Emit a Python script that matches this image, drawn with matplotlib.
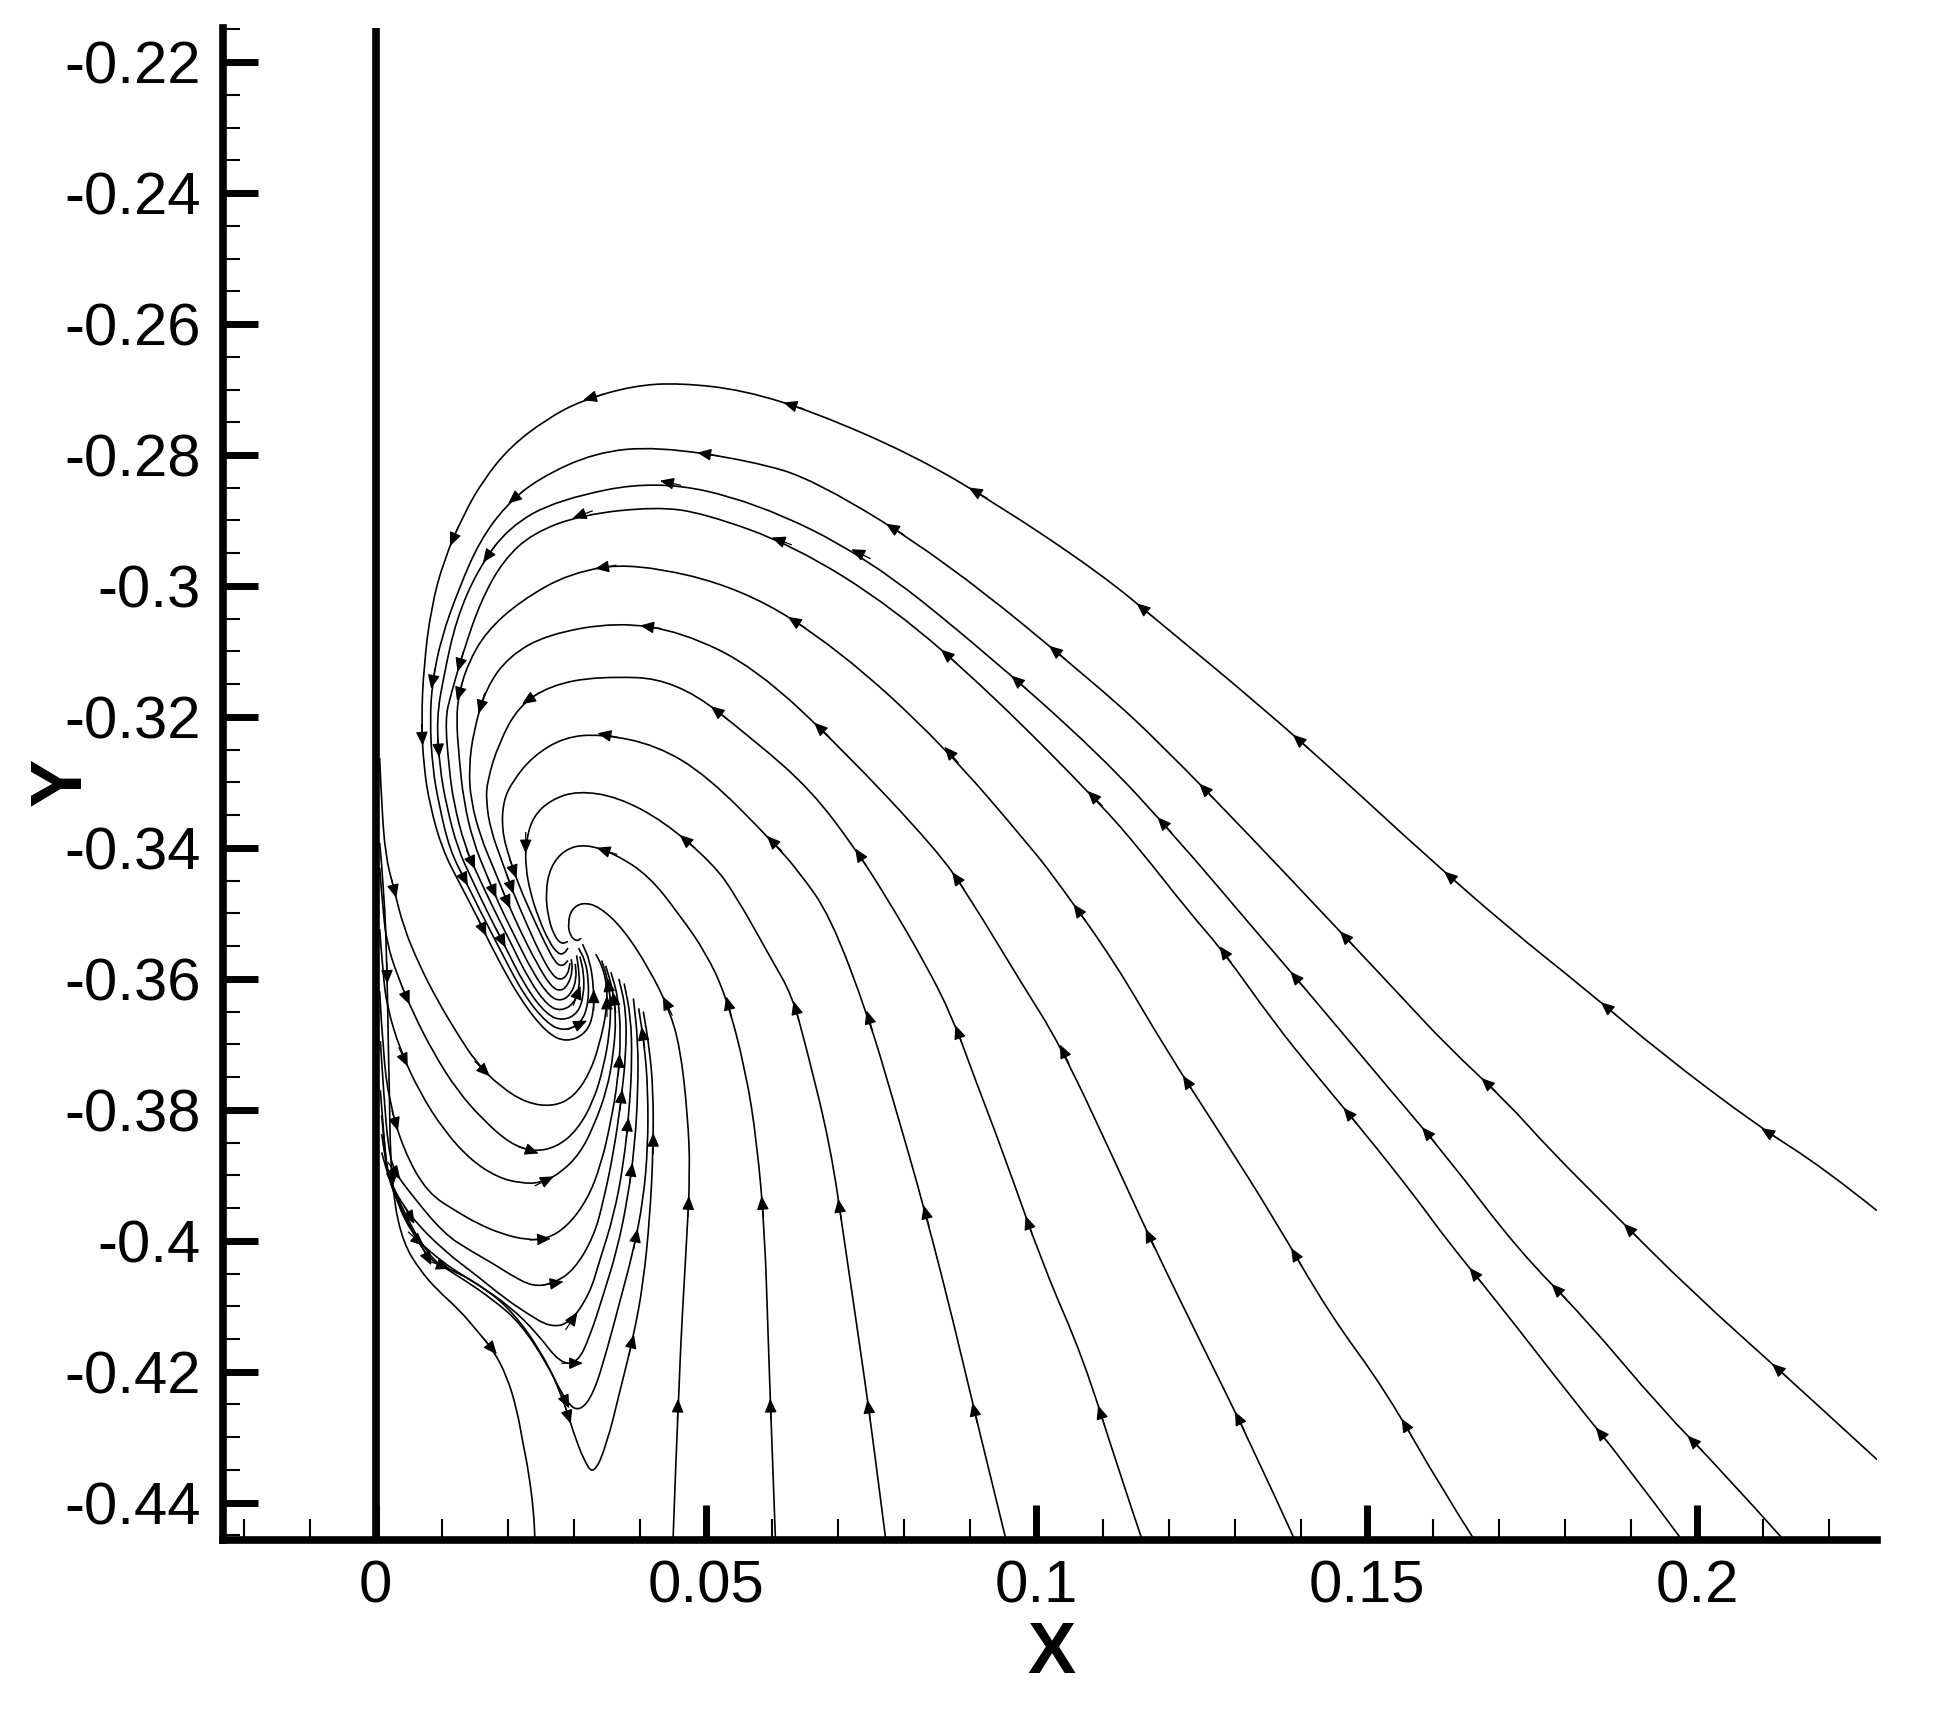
import numpy as np
import matplotlib.pyplot as plt
from matplotlib.path import Path
from matplotlib.patches import PathPatch
from matplotlib.ticker import MultipleLocator, FuncFormatter

plt.rcParams['font.family'] = ['Liberation Sans', 'DejaVu Sans']

# streamlines, each in flow order (x, y)
# upper family: come in from the right / bottom, go over the top and into the focus
a_x = [0.2272, 0.2193, 0.2092, 0.1946, 0.1837, 0.1713, 0.1582, 0.1466, 0.1340, 0.1188, 0.1097, 0.0939, 0.0813, 0.0665,
       0.0557, 0.0461, 0.0390, 0.0311, 0.0259, 0.0204, 0.0163, 0.0133, 0.0103, 0.0084, 0.0073, 0.0069, 0.0073, 0.0082,
       0.0101, 0.0127, 0.0154, 0.0178, 0.0219, 0.0259, 0.0289, 0.0319, 0.0330, 0.0330, 0.0324, 0.0313]
a_y = [-0.3954, -0.3890, -0.3825, -0.3714, -0.3621, -0.3521, -0.3405, -0.3297, -0.3184, -0.3057, -0.2981, -0.2874,
       -0.2800, -0.2735, -0.2701, -0.2690, -0.2694, -0.2717, -0.2745, -0.2787, -0.2838, -0.2891, -0.2961, -0.3033,
       -0.3120, -0.3207, -0.3278, -0.3335, -0.3403, -0.3454, -0.3506, -0.3557, -0.3632, -0.3683, -0.3697, -0.3683,
       -0.3653, -0.3612, -0.3572, -0.3547]

b_x = [0.2272, 0.2246, 0.2139, 0.1991, 0.1869, 0.1775, 0.1713, 0.1621, 0.1552, 0.1428, 0.1327, 0.1188, 0.1097, 0.0862,
       0.0665, 0.0568, 0.0425, 0.0332, 0.0246, 0.0197, 0.0157, 0.0126, 0.0099, 0.0086, 0.0082, 0.0086, 0.0096, 0.0112,
       0.0137, 0.0161, 0.0186, 0.0223, 0.0259, 0.0285, 0.0311, 0.0322, 0.0322, 0.0317, 0.0307]
b_y = [-0.4334, -0.4310, -0.4211, -0.4077, -0.3954, -0.3859, -0.3789, -0.3702, -0.3627, -0.3494, -0.3386, -0.3241,
       -0.3156, -0.2961, -0.2838, -0.2809, -0.2787, -0.2796, -0.2836, -0.2877, -0.2932, -0.3004, -0.3080, -0.3146,
       -0.3203, -0.3278, -0.3335, -0.3403, -0.3453, -0.3502, -0.3551, -0.3623, -0.3668, -0.3680, -0.3668, -0.3638,
       -0.3600, -0.3572, -0.3553]

c_x = [0.2131, 0.2037, 0.1946, 0.1829, 0.1728, 0.1621, 0.1528, 0.1421, 0.1320, 0.1213, 0.1097, 0.0913, 0.0742, 0.0575,
       0.0425, 0.0276, 0.0201, 0.0154, 0.0122, 0.0103, 0.0092, 0.0097, 0.0107, 0.0124, 0.0146, 0.0169, 0.0193, 0.0227,
       0.0259, 0.0283, 0.0306, 0.0315, 0.0315, 0.0309]
c_y = [-0.4457, -0.4351, -0.4257, -0.4117, -0.4013, -0.3871, -0.3761, -0.3632, -0.3513, -0.3386, -0.3258, -0.3093,
       -0.2955, -0.2872, -0.2838, -0.2868, -0.2910, -0.2976, -0.3051, -0.3137, -0.3203, -0.3278, -0.3335, -0.3401,
       -0.3449, -0.3498, -0.3545, -0.3613, -0.3655, -0.3664, -0.3653, -0.3625, -0.3591, -0.3566]

d_x = [0.1977, 0.1891, 0.1814, 0.1698, 0.1621, 0.1575, 0.1498, 0.1421, 0.1359, 0.1282, 0.1231, 0.1157, 0.1097, 0.0932,
       0.0783, 0.0632, 0.0497, 0.0425, 0.0313, 0.0238, 0.0193, 0.0159, 0.0133, 0.0114, 0.0105, 0.0111, 0.0118, 0.0135,
       0.0156, 0.0178, 0.0201, 0.0232, 0.0261, 0.0281, 0.0300, 0.0309, 0.0307, 0.0304]
d_y = [-0.4457, -0.4340, -0.4245, -0.4094, -0.3999, -0.3935, -0.3837, -0.3744, -0.3666, -0.3557, -0.3498, -0.3403,
       -0.3333, -0.3165, -0.3033, -0.2938, -0.2889, -0.2879, -0.2891, -0.2919, -0.2961, -0.3023, -0.3099, -0.3165,
       -0.3203, -0.3278, -0.3331, -0.3398, -0.3445, -0.3492, -0.3538, -0.3602, -0.3642, -0.3649, -0.3638, -0.3613,
       -0.3583, -0.3564]

e_x = [0.1663, 0.1614, 0.1528, 0.1443, 0.1359, 0.1282, 0.1196, 0.1117, 0.1035, 0.0995, 0.0857, 0.0701, 0.0557, 0.0390,
       0.0294, 0.0219, 0.0167, 0.0139, 0.0126, 0.0122, 0.0126, 0.0133, 0.0148, 0.0167, 0.0187, 0.0208, 0.0238, 0.0264,
       0.0281, 0.0296, 0.0304, 0.0302]
e_y = [-0.4457, -0.4380, -0.4228, -0.4111, -0.3965, -0.3842, -0.3708, -0.3572, -0.3456, -0.3403, -0.3241, -0.3097,
       -0.3004, -0.2964, -0.2980, -0.3023, -0.3070, -0.3120, -0.3165, -0.3203, -0.3260, -0.3328, -0.3392, -0.3439,
       -0.3487, -0.3530, -0.3591, -0.3628, -0.3634, -0.3623, -0.3600, -0.3577]

f_x = [0.1391, 0.1327, 0.1250, 0.1173, 0.1117, 0.1035, 0.0977, 0.0896, 0.0849, 0.0707, 0.0575, 0.0463, 0.0366, 0.0259,
       0.0201, 0.0167, 0.0148, 0.0141, 0.0144, 0.0159, 0.0178, 0.0197, 0.0217, 0.0244, 0.0266, 0.0281, 0.0292, 0.0298,
       0.0296]
f_y = [-0.4457, -0.4315, -0.4158, -0.3999, -0.3875, -0.3699, -0.3606, -0.3471, -0.3403, -0.3250, -0.3125, -0.3070,
       -0.3055, -0.3074, -0.3108, -0.3156, -0.3222, -0.3278, -0.3328, -0.3384, -0.3430, -0.3477, -0.3523, -0.3577,
       -0.3613, -0.3619, -0.3608, -0.3587, -0.3570]

g_x = [0.1160, 0.1123, 0.1070, 0.1012, 0.0948, 0.0907, 0.0873, 0.0832, 0.0774, 0.0727, 0.0660, 0.0575, 0.0454, 0.0336,
       0.0264, 0.0216, 0.0186, 0.0169, 0.0167, 0.0174, 0.0191, 0.0208, 0.0227, 0.0249, 0.0268, 0.0281, 0.0291, 0.0294]
g_y = [-0.4457, -0.4346, -0.4177, -0.4043, -0.3861, -0.3753, -0.3659, -0.3577, -0.3477, -0.3403, -0.3313, -0.3237,
       -0.3142, -0.3138, -0.3152, -0.3184, -0.3241, -0.3297, -0.3328, -0.3373, -0.3420, -0.3468, -0.3513, -0.3562,
       -0.3596, -0.3602, -0.3593, -0.3576]

h_x = [0.0954, 0.0907, 0.0879, 0.0832, 0.0780, 0.0746, 0.0688, 0.0641, 0.0604, 0.0502, 0.0425, 0.0341, 0.0285, 0.0238,
       0.0208, 0.0193, 0.0191, 0.0202, 0.0217, 0.0236, 0.0255, 0.0272, 0.0283, 0.0291]
h_y = [-0.4457, -0.4264, -0.4143, -0.3956, -0.3774, -0.3659, -0.3504, -0.3437, -0.3394, -0.3290, -0.3243, -0.3226,
       -0.3231, -0.3260, -0.3297, -0.3328, -0.3373, -0.3415, -0.3458, -0.3502, -0.3543, -0.3576, -0.3581, -0.3572]

i_x = [0.0772, 0.0754, 0.0740, 0.0710, 0.0688, 0.0652, 0.0630, 0.0600, 0.0544, 0.0510, 0.0437, 0.0366, 0.0306, 0.0266,
       0.0238, 0.0227, 0.0227, 0.0234, 0.0246, 0.0262, 0.0276, 0.0285, 0.0291]
i_y = [-0.4457, -0.4315, -0.4211, -0.4005, -0.3854, -0.3706, -0.3625, -0.3572, -0.3471, -0.3424, -0.3360, -0.3322,
       -0.3313, -0.3326, -0.3352, -0.3392, -0.3430, -0.3468, -0.3506, -0.3543, -0.3562, -0.3562, -0.3553]

j_x = [0.0605, 0.0594, 0.0589, 0.0577, 0.0560, 0.0530, 0.0499, 0.0461, 0.0414, 0.0362, 0.0317, 0.0285, 0.0264, 0.0257,
       0.0261, 0.0270, 0.0281, 0.0291]
j_y = [-0.4457, -0.4156, -0.3988, -0.3850, -0.3740, -0.3625, -0.3559, -0.3504, -0.3443, -0.3409, -0.3394, -0.3403,
       -0.3430, -0.3468, -0.3506, -0.3534, -0.3547, -0.3543]

k_x = [0.0450, 0.0459, 0.0470, 0.0476, 0.0472, 0.0461, 0.0444, 0.0414, 0.0375, 0.0339, 0.0313, 0.0296, 0.0291, 0.0294,
       0.0304, 0.0311]
k_y = [-0.4457, -0.4204, -0.4009, -0.3895, -0.3806, -0.3706, -0.3646, -0.3585, -0.3524, -0.3490, -0.3483, -0.3494,
       -0.3515, -0.3534, -0.3543, -0.3538]

# lower family: leave the wall, dip down and come up into the focus from below
m1_x = [0.0006, 0.0009, 0.0015, 0.0027, 0.0042, 0.0067, 0.0093, 0.0123, 0.0153, 0.0189, 0.0229, 0.0269, 0.0300, 0.0324,
        0.0339, 0.0350, 0.0350, 0.0343, 0.0333]
m1_y = [-0.3263, -0.3335, -0.3413, -0.3460, -0.3521, -0.3581, -0.3632, -0.3683, -0.3729, -0.3765, -0.3790, -0.3795,
        -0.3780, -0.3744, -0.3699, -0.3647, -0.3610, -0.3581, -0.3562]

m2_x = [0.0006, 0.0011, 0.0017, 0.0032, 0.0057, 0.0088, 0.0123, 0.0163, 0.0204, 0.0239, 0.0274, 0.0305, 0.0330, 0.0345,
        0.0354, 0.0356, 0.0351, 0.0342]
m2_y = [-0.3430, -0.3496, -0.3545, -0.3593, -0.3653, -0.3714, -0.3770, -0.3816, -0.3852, -0.3864, -0.3857, -0.3831,
        -0.3786, -0.3734, -0.3683, -0.3638, -0.3600, -0.3572]

m3_x = [0.0006, 0.0011, 0.0017, 0.0037, 0.0067, 0.0103, 0.0143, 0.0184, 0.0219, 0.0249, 0.0279, 0.0309, 0.0330, 0.0350,
        0.0360, 0.0364, 0.0358, 0.0348]
m3_y = [-0.3524, -0.3591, -0.3642, -0.3709, -0.3774, -0.3831, -0.3876, -0.3903, -0.3912, -0.3912, -0.3897, -0.3867,
        -0.3825, -0.3770, -0.3714, -0.3657, -0.3613, -0.3580]

m4_x = [0.0006, 0.0011, 0.0021, 0.0042, 0.0078, 0.0127, 0.0153, 0.0189, 0.0229, 0.0259, 0.0289, 0.0320, 0.0341, 0.0356,
        0.0367, 0.0371, 0.0367, 0.0356]
m4_y = [-0.3619, -0.3714, -0.3789, -0.3861, -0.3927, -0.3958, -0.3973, -0.3989, -0.3999, -0.3997, -0.3979, -0.3938,
        -0.3884, -0.3818, -0.3752, -0.3685, -0.3628, -0.3590]

m5_x = [0.0007, 0.0013, 0.0019, 0.0027, 0.0052, 0.0103, 0.0143, 0.0178, 0.0209, 0.0239, 0.0269, 0.0300, 0.0330, 0.0345,
        0.0360, 0.0371, 0.0379, 0.0379, 0.0368]
m5_y = [-0.3695, -0.3789, -0.3856, -0.3892, -0.3927, -0.3989, -0.4015, -0.4035, -0.4055, -0.4070, -0.4065, -0.4045,
        -0.3994, -0.3938, -0.3865, -0.3789, -0.3714, -0.3647, -0.3600]

m6_x = [0.0007, 0.0013, 0.0017, 0.0052, 0.0103, 0.0154, 0.0193, 0.0229, 0.0264, 0.0294, 0.0324, 0.0339, 0.0360, 0.0375,
        0.0384, 0.0388, 0.0386, 0.0376]
m6_y = [-0.3770, -0.3846, -0.3903, -0.3963, -0.4015, -0.4054, -0.4086, -0.4111, -0.4132, -0.4126, -0.4081, -0.4030,
        -0.3963, -0.3884, -0.3799, -0.3723, -0.3657, -0.3607]

m7_x = [0.0009, 0.0015, 0.0022, 0.0052, 0.0103, 0.0154, 0.0204, 0.0244, 0.0279, 0.0305, 0.0324, 0.0345, 0.0365, 0.0381,
        0.0392, 0.0397, 0.0397, 0.0390]
m7_y = [-0.3808, -0.3875, -0.3912, -0.3989, -0.4035, -0.4066, -0.4101, -0.4141, -0.4187, -0.4187, -0.4147, -0.4081,
        -0.4015, -0.3938, -0.3856, -0.3770, -0.3695, -0.3630]

m8_x = [0.0009, 0.0017, 0.0027, 0.0078, 0.0127, 0.0178, 0.0219, 0.0259, 0.0289, 0.0309, 0.0330, 0.0350, 0.0370, 0.0390,
        0.0405, 0.0412, 0.0412, 0.0407, 0.0398]
m8_y = [-0.3837, -0.3893, -0.3923, -0.4025, -0.4055, -0.4090, -0.4126, -0.4187, -0.4248, -0.4261, -0.4233, -0.4167,
        -0.4091, -0.4015, -0.3938, -0.3856, -0.3770, -0.3704, -0.3645]

m9_x = [0.0009, 0.0022, 0.0032, 0.0078, 0.0118, 0.0169, 0.0209, 0.0249, 0.0279, 0.0300, 0.0315, 0.0330, 0.0350, 0.0370,
        0.0390, 0.0405, 0.0415, 0.0420, 0.0420, 0.0414, 0.0405]
m9_y = [-0.3865, -0.3912, -0.3938, -0.4030, -0.4045, -0.4075, -0.4111, -0.4167, -0.4228, -0.4295, -0.4335, -0.4358,
        -0.4310, -0.4228, -0.4147, -0.4065, -0.3963, -0.3861, -0.3770, -0.3704, -0.3650]

# the one that leaves the wall and goes out through the bottom
m0_x = [0.0006, 0.0013, 0.0017, 0.0019, 0.0021, 0.0022, 0.0027, 0.0042, 0.0067, 0.0093, 0.0127, 0.0153, 0.0178, 0.0199,
        0.0214, 0.0223, 0.0231, 0.0239, 0.0241, 0.0242]
m0_y = [-0.3392, -0.3468, -0.3581, -0.3695, -0.3789, -0.3861, -0.3938, -0.4004, -0.4045, -0.4075, -0.4106, -0.4137,
        -0.4167, -0.4208, -0.4259, -0.4310, -0.4350, -0.4412, -0.4457, -0.4475]

streamlines = [(a_x, a_y), (b_x, b_y), (c_x, c_y), (d_x, d_y), (e_x, e_y), (f_x, f_y), (g_x, g_y),
               (h_x, h_y), (i_x, i_y), (j_x, j_y), (k_x, k_y),
               (m1_x, m1_y), (m2_x, m2_y), (m3_x, m3_y), (m4_x, m4_y), (m5_x, m5_y), (m6_x, m6_y),
               (m7_x, m7_y), (m8_x, m8_y), (m9_x, m9_y), (m0_x, m0_y)]


def smooth_path(xs, ys):
    # rounded corners: each read point is a quadratic control point between segment midpoints
    pts = np.column_stack([xs, ys])
    verts = [pts[0]]
    codes = [Path.MOVETO]
    for i in range(1, len(pts) - 1):
        mid = (pts[i] + pts[i + 1]) / 2
        verts += [pts[i], mid]
        codes += [Path.CURVE3, Path.CURVE3]
    verts.append(pts[-1])
    codes.append(Path.LINETO)
    return Path(verts, codes)


def add_arrows(ax, xs, ys, spacing=0.031, start=0.02):
    # small arrowheads every `spacing` along the line, like tecplot does
    pts = np.column_stack([xs, ys])
    seg = np.diff(pts, axis=0)
    seglen = np.hypot(seg[:, 0], seg[:, 1])
    cum = np.concatenate([[0], np.cumsum(seglen)])
    s = start
    while s < cum[-1] - 0.004:
        i = max(np.searchsorted(cum, s) - 1, 0)
        if seglen[i] == 0:
            s += spacing
            continue
        t = (s - cum[i]) / seglen[i]
        p = pts[i] + t * seg[i]
        d = seg[i] / seglen[i]
        ax.annotate('', xy=p + d * 0.0016, xytext=p - d * 0.0016,
                    arrowprops=dict(arrowstyle='-|>,head_length=0.6,head_width=0.26',
                                    mutation_scale=14, lw=0.9, color='k',
                                    shrinkA=0, shrinkB=0))
        s += spacing


def tick_fmt(v, pos):
    if abs(v) < 1e-9:
        return '0'
    return f'{round(v, 4):g}'


fig = plt.figure(figsize=(19.43, 17.10), dpi=100)
ax = fig.add_axes([0.1148, 0.0994, 0.8512, 0.8842])

for xs, ys in streamlines:
    ax.add_patch(PathPatch(smooth_path(xs, ys), facecolor='none', edgecolor='k', lw=1.2, zorder=2))
    add_arrows(ax, xs, ys)

# the wall at x = 0
ax.axvline(0, color='k', lw=5.5, zorder=3)

ax.set_xlim(-0.0231, 0.2272)
ax.set_ylim(-0.4457, -0.2148)

for s in ('top', 'right'):
    ax.spines[s].set_visible(False)
for s in ('left', 'bottom'):
    ax.spines[s].set_linewidth(5.5)

ax.xaxis.set_major_locator(MultipleLocator(0.05))
ax.xaxis.set_minor_locator(MultipleLocator(0.01))
ax.yaxis.set_major_locator(MultipleLocator(0.02))
ax.yaxis.set_minor_locator(MultipleLocator(0.005))
ax.xaxis.set_major_formatter(FuncFormatter(tick_fmt))
ax.yaxis.set_major_formatter(FuncFormatter(tick_fmt))

ax.tick_params(which='major', direction='in', length=25, width=5, labelsize=43)
ax.tick_params(axis='x', which='major', pad=14)
ax.tick_params(axis='y', which='major', pad=16)
ax.tick_params(axis='x', which='minor', direction='in', length=15, width=1.5)
ax.tick_params(axis='y', which='minor', direction='in', length=12, width=1.5)

fig.text(0.541, 0.033, 'X', fontsize=52, fontweight='bold', ha='center', va='center')
fig.text(0.0319, 0.5427, 'Y', fontsize=52, fontweight='bold', ha='center', va='center', rotation=90)

fig.savefig('out.png', dpi=100)
